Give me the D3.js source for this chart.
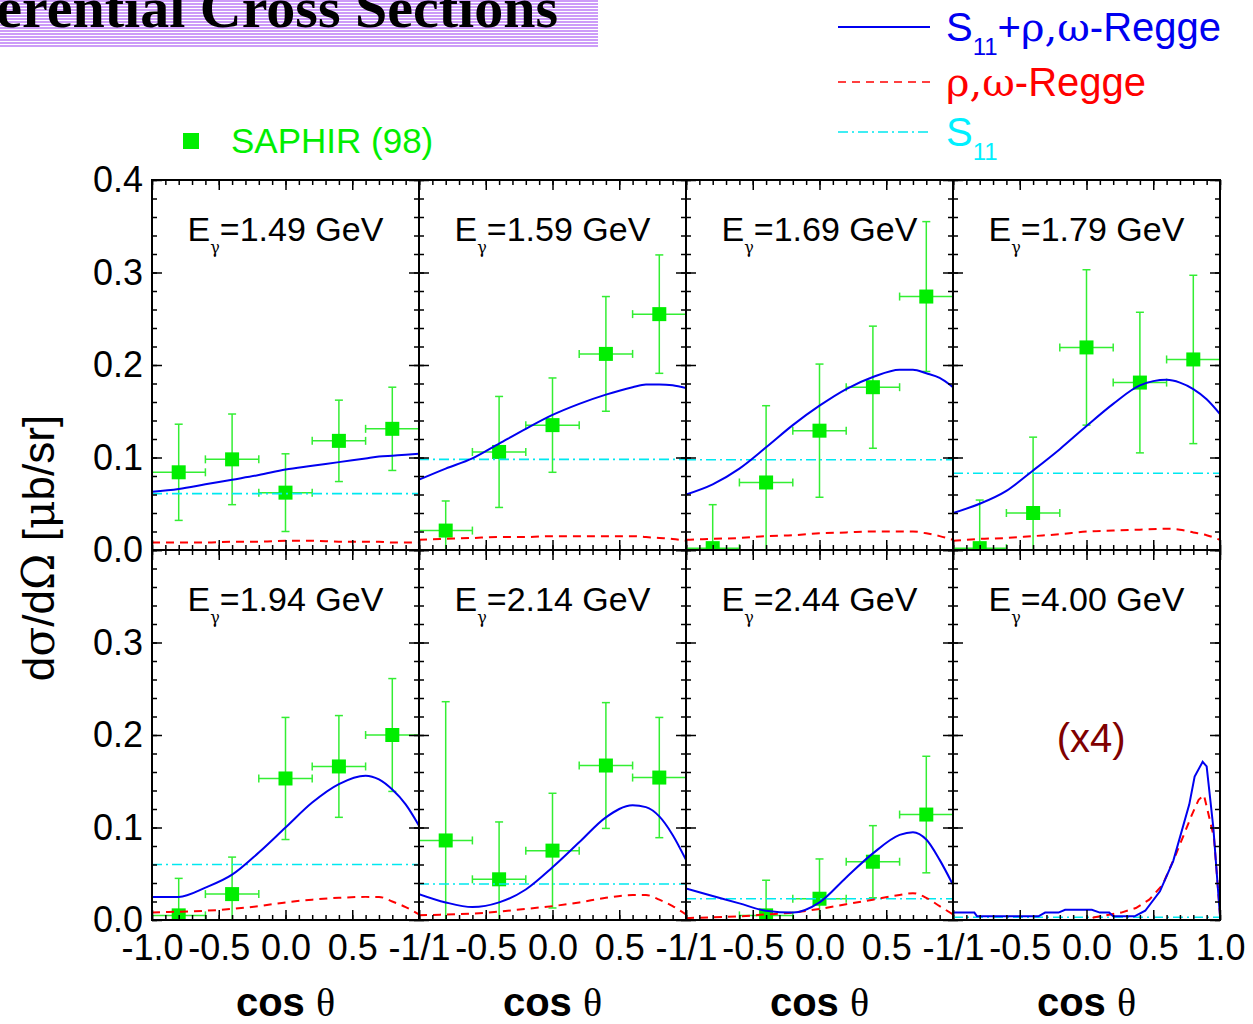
<!DOCTYPE html>
<html>
<head>
<meta charset="utf-8">
<script src="https://cdn.jsdelivr.net/npm/d3@7"></script>
<style>
  body { margin: 0; background: #fff; }
</style>
</head>
<body>
<div id="chart"></div>
<script>
// ---- data ----
var energies = ["1.49", "1.59", "1.69", "1.79", "1.94", "2.14", "2.44", "4.00"];

// SAPHIR (98) points, cos theta bins of width 0.4
var binCos = [-0.8, -0.4, 0.0, 0.4, 0.8];
var binHalf = 0.2;
var saphirY = [
  [0.084, 0.098, 0.062, 0.118, 0.131],
  [0.021, 0.106, 0.135, 0.212, 0.255],
  [0.002, 0.073, 0.129, 0.176, 0.274],
  [0.002, 0.040, 0.219, 0.181, 0.206],
  [0.005, 0.028, 0.153, 0.166, 0.200],
  [0.086, 0.044, 0.075, 0.167, 0.154],
  [null, 0.005, 0.023, 0.063, 0.114],
  []
];
var saphirErr = [
  [0.052, 0.049, 0.042, 0.044, 0.045],
  [0.032, 0.060, 0.051, 0.062, 0.064],
  [0.047, 0.083, 0.072, 0.066, 0.081],
  [0.052, 0.082, 0.084, 0.076, 0.091],
  [0.040, 0.040, 0.066, 0.055, 0.061],
  [0.150, 0.062, 0.062, 0.068, 0.065],
  [null, 0.038, 0.043, 0.039, 0.063],
  []
];

// model curves for the first seven energies
var curveCos = [-1, -0.8, -0.6, -0.4, -0.2, 0, 0.2, 0.4, 0.6, 0.7, 0.8, 0.9, 1.0];
var fullModel = [
  [0.063, 0.066, 0.071, 0.076, 0.081, 0.087, 0.091, 0.095, 0.099, 0.101, 0.102, 0.103, 0.104],
  [0.076, 0.088, 0.099, 0.115, 0.131, 0.146, 0.158, 0.168, 0.176, 0.179, 0.179, 0.178, 0.175],
  [0.060, 0.071, 0.088, 0.111, 0.135, 0.156, 0.174, 0.187, 0.195, 0.195, 0.191, 0.186, 0.176],
  [0.040, 0.050, 0.064, 0.086, 0.109, 0.134, 0.158, 0.178, 0.184, 0.181, 0.174, 0.163, 0.147],
  [0.025, 0.025, 0.035, 0.049, 0.073, 0.100, 0.127, 0.147, 0.156, 0.152, 0.141, 0.125, 0.102],
  [0.028, 0.019, 0.014, 0.019, 0.033, 0.057, 0.084, 0.111, 0.124, 0.122, 0.112, 0.092, 0.065],
  [0.034, 0.026, 0.018, 0.010, 0.008, 0.019, 0.046, 0.072, 0.092, 0.095, 0.087, 0.065, 0.038]
];
var reggeModel = [
  [0.008, 0.008, 0.008, 0.009, 0.009, 0.010, 0.010, 0.009, 0.009, 0.009, 0.008, 0.008, 0.008],
  [0.011, 0.012, 0.013, 0.014, 0.014, 0.015, 0.015, 0.015, 0.015, 0.014, 0.013, 0.012, 0.010],
  [0.011, 0.012, 0.013, 0.015, 0.016, 0.018, 0.019, 0.020, 0.020, 0.020, 0.018, 0.015, 0.011],
  [0.010, 0.012, 0.013, 0.015, 0.017, 0.020, 0.021, 0.022, 0.023, 0.022, 0.019, 0.016, 0.011],
  [0.008, 0.009, 0.010, 0.012, 0.015, 0.019, 0.022, 0.024, 0.025, 0.025, 0.020, 0.014, 0.006],
  [0.005, 0.006, 0.007, 0.009, 0.012, 0.015, 0.019, 0.024, 0.027, 0.027, 0.022, 0.015, 0.006],
  [0.002, 0.003, 0.004, 0.006, 0.008, 0.012, 0.017, 0.022, 0.027, 0.029, 0.024, 0.015, 0.006]
];
var s11Model = [0.061, 0.098, 0.0975, 0.083, 0.060, 0.039, 0.023, 0.003];

// 4.00 GeV panel (shown x4) is sampled on its own grid
var fullCos4 = [-1, -0.84, -0.82, -0.36, -0.31, -0.21, -0.16, 0.04, 0.1, 0.17, 0.2, 0.36, 0.44, 0.55, 0.65, 0.77, 0.81, 0.87, 0.9, 0.95, 1.0];
var full4 = [0.008, 0.008, 0.004, 0.004, 0.008, 0.008, 0.011, 0.011, 0.008, 0.008, 0.004, 0.004, 0.010, 0.031, 0.064, 0.125, 0.155, 0.171, 0.166, 0.100, 0.004];
var reggeCos4 = [-1, 0.0, 0.06, 0.26, 0.37, 0.47, 0.57, 0.67, 0.79, 0.84, 0.88, 0.955, 1.0];
var regge4 = [0.0, 0.0, 0.003, 0.008, 0.013, 0.022, 0.038, 0.071, 0.114, 0.130, 0.135, 0.089, 0.006];

var xMajor = [-1, -0.5, 0, 0.5, 1];
var xMinor = d3.range(0, 21).map(function (i) { return -1 + i * 0.1; });
var yMajor = [0, 0.1, 0.2, 0.3, 0.4];
var yMinor = d3.range(0, 21).map(function (i) { return i * 0.02; });

// ---- layout ----
var W = 1253, H = 1024;
var panelLeft = 152, panelW = 267;
var rowTop = [180, 550], rowH = 370;
var sans = '"Liberation Sans", Arial, sans-serif';
var serif = '"Liberation Serif", "Times New Roman", serif';
var greek = '"DejaVu Serif", "Liberation Serif", serif';

var blue = "#0000f0", red = "#ff0000", cyan = "#00e8f0", green = "#00ee00";

var svg = d3.select("#chart")
  .append("svg")
  .attr("width", W)
  .attr("height", H)
  .style("font-family", sans);

var defs = svg.append("defs");

// striped title banner (cut off at the left like in the slide)
var pat = defs.append("pattern")
  .attr("id", "stripes")
  .attr("patternUnits", "userSpaceOnUse")
  .attr("width", 10)
  .attr("height", 3);
pat.append("rect").attr("width", 10).attr("height", 3).attr("fill", "#ffffff");
pat.append("rect").attr("width", 10).attr("height", 2).attr("fill", "#cc9cf8");

svg.append("rect")
  .attr("x", 0).attr("y", 0)
  .attr("width", 598).attr("height", 47)
  .attr("fill", "url(#stripes)");

svg.append("text")
  .attr("x", 558).attr("y", 27)
  .attr("text-anchor", "end")
  .style("font-family", serif)
  .style("font-weight", "bold")
  .style("font-size", "58px")
  .text("Differential Cross Sections");

// add text pieces; [string, isGreek, dy, size]
function richText(t, parts) {
  parts.forEach(function (p) {
    var s = t.append("tspan").text(p[0]);
    if (p[1]) s.style("font-family", greek);
    if (p[2]) s.attr("dy", p[2]);
    if (p[3]) s.style("font-size", p[3] + "px");
  });
  return t;
}

var line = d3.line()
  .x(function (d) { return d[0]; })
  .y(function (d) { return d[1]; });

function cleanTicks(s) {
  s.select(".domain").remove();
  s.selectAll("line").attr("stroke", "#000").attr("stroke-width", 1.5);
}

energies.forEach(function (e, i) {
  var col = i % 4, row = Math.floor(i / 4);
  var x0 = panelLeft + col * panelW, y0 = rowTop[row];
  var x = d3.scaleLinear().domain([-1, 1]).range([x0, x0 + panelW]);
  var y = d3.scaleLinear().domain([0, 0.4]).range([y0 + rowH, y0]);

  defs.append("clipPath").attr("id", "clip" + i)
    .append("rect")
    .attr("x", x0).attr("y", y0)
    .attr("width", panelW).attr("height", rowH);

  var g = svg.append("g");
  var plot = g.append("g").attr("clip-path", "url(#clip" + i + ")");

  // SAPHIR points with error bars
  var pts = binCos.map(function (c, k) {
    return { c: c, v: saphirY[i][k], err: saphirErr[i][k] };
  }).filter(function (d) { return d.v != null; });

  var eb = plot.selectAll(".eb")
    .data(pts)
    .enter()
    .append("g")
    .attr("stroke", "#33ee33")
    .attr("stroke-width", 1.5);
  eb.append("line")
    .attr("x1", function (d) { return x(d.c - binHalf); })
    .attr("x2", function (d) { return x(d.c + binHalf); })
    .attr("y1", function (d) { return y(d.v); })
    .attr("y2", function (d) { return y(d.v); });
  eb.append("line")
    .attr("x1", function (d) { return x(d.c); })
    .attr("x2", function (d) { return x(d.c); })
    .attr("y1", function (d) { return y(d.v - d.err); })
    .attr("y2", function (d) { return y(d.v + d.err); });
  [-1, 1].forEach(function (s) {
    eb.append("line")
      .attr("x1", function (d) { return x(d.c) - 4; })
      .attr("x2", function (d) { return x(d.c) + 4; })
      .attr("y1", function (d) { return y(d.v + s * d.err); })
      .attr("y2", function (d) { return y(d.v + s * d.err); });
    eb.append("line")
      .attr("x1", function (d) { return x(d.c + s * binHalf); })
      .attr("x2", function (d) { return x(d.c + s * binHalf); })
      .attr("y1", function (d) { return y(d.v) - 4; })
      .attr("y2", function (d) { return y(d.v) + 4; });
  });
  plot.selectAll(".pt")
    .data(pts)
    .enter()
    .append("rect")
    .attr("x", function (d) { return x(d.c) - 7; })
    .attr("y", function (d) { return y(d.v) - 7; })
    .attr("width", 14)
    .attr("height", 14)
    .attr("fill", green);

  // model curves
  var fullPts, reggePts, curve;
  if (i < 7) {
    fullPts = curveCos.map(function (c, k) { return [x(c), y(fullModel[i][k])]; });
    reggePts = curveCos.map(function (c, k) { return [x(c), y(reggeModel[i][k])]; });
    curve = d3.curveMonotoneX;
  } else {
    fullPts = fullCos4.map(function (c, k) { return [x(c), y(full4[k])]; });
    reggePts = reggeCos4.map(function (c, k) { return [x(c), y(regge4[k])]; });
    curve = d3.curveLinear;
  }
  line.curve(curve);

  plot.append("path")
    .attr("d", line([[x(-1), y(s11Model[i])], [x(1), y(s11Model[i])]]))
    .attr("fill", "none")
    .attr("stroke", cyan)
    .attr("stroke-width", 1.6)
    .attr("stroke-dasharray", "10,4,2,4");
  plot.append("path")
    .attr("d", line(reggePts))
    .attr("fill", "none")
    .attr("stroke", red)
    .attr("stroke-width", 2)
    .attr("stroke-dasharray", "8,6");
  plot.append("path")
    .attr("d", line(fullPts))
    .attr("fill", "none")
    .attr("stroke", blue)
    .attr("stroke-width", 2);

  // inward ticks on all four sides, minor then major
  var axes = [
    [function () { return d3.axisBottom(x); }, "translate(0," + (y0 + rowH) + ")", xMajor, xMinor],
    [function () { return d3.axisTop(x); }, "translate(0," + y0 + ")", xMajor, xMinor],
    [function () { return d3.axisLeft(y); }, "translate(" + x0 + ",0)", yMajor, yMinor],
    [function () { return d3.axisRight(y); }, "translate(" + (x0 + panelW) + ",0)", yMajor, yMinor]
  ];
  axes.forEach(function (a) {
    g.append("g").attr("transform", a[1])
      .call(a[0]().tickValues(a[3]).tickSize(-5).tickFormat(""))
      .call(cleanTicks);
    g.append("g").attr("transform", a[1])
      .call(a[0]().tickValues(a[2]).tickSize(-10).tickFormat(""))
      .call(cleanTicks);
  });

  g.append("rect")
    .attr("x", x0).attr("y", y0)
    .attr("width", panelW).attr("height", rowH)
    .attr("fill", "none")
    .attr("stroke", "#000")
    .attr("stroke-width", 2);

  // energy label
  var lab = g.append("text")
    .attr("x", x(0))
    .attr("y", y0 + 61)
    .attr("text-anchor", "middle")
    .style("font-size", "34px");
  richText(lab, [["E"], ["γ", true, 12, 16], ["=" + e + " GeV", false, -12]]);

  if (i === 7) {
    g.append("text")
      .attr("x", x(0.035)).attr("y", y0 + 202)
      .attr("text-anchor", "middle")
      .attr("fill", "#800000")
      .style("font-size", "40px")
      .text("(x4)");
  }

  // y tick labels on the first column
  if (col === 0) {
    var yl = row === 0 ? yMajor : yMajor.slice(0, 4);
    g.append("g")
      .attr("transform", "translate(" + x0 + ",0)")
      .call(d3.axisLeft(y).tickValues(yl).tickSize(0).tickPadding(9).tickFormat(d3.format(".1f")))
      .call(function (s) { s.select(".domain").remove(); })
      .attr("font-family", sans)
      .attr("font-size", 36);
  }

  // x tick labels below the lower row; panel edges share "-1/1"
  if (row === 1) {
    var xl = col === 0 ? xMajor : xMajor.slice(1);
    g.append("g")
      .attr("transform", "translate(0," + (y0 + rowH) + ")")
      .call(d3.axisBottom(x).tickValues(xl).tickSize(0).tickPadding(14)
        .tickFormat(function (d) {
          if (d === 1) return col === 3 ? "1.0" : "-1/1";
          return d3.format(".1f")(d).replace("−", "-");
        }))
      .call(function (s) { s.select(".domain").remove(); })
      .attr("font-family", sans)
      .attr("font-size", 36);

    var ct = g.append("text")
      .attr("x", x(0))
      .attr("y", 1016)
      .attr("text-anchor", "middle")
      .style("font-size", "40px");
    ct.append("tspan").style("font-weight", "bold").text("cos ");
    ct.append("tspan").style("font-family", serif).text("θ");
  }
});

// y axis title
var yt = svg.append("text")
  .attr("transform", "translate(54,548) rotate(-90)")
  .attr("text-anchor", "middle")
  .style("font-size", "44px");
richText(yt, [["d"], ["σ", true], ["/d"], ["Ω", true], [" ["], ["μ", true], ["b/sr]"]]);

// SAPHIR key
svg.append("rect")
  .attr("x", 183).attr("y", 133)
  .attr("width", 16).attr("height", 16)
  .attr("fill", green);
svg.append("text")
  .attr("x", 231).attr("y", 153)
  .attr("fill", green)
  .style("font-size", "35px")
  .text("SAPHIR (98)");

// model legend
var legend = [
  { y: 27, color: blue, dash: null, parts: [["S"], ["11", false, 14, 24], ["+", false, -14], ["ρ,ω", true], ["-Regge"]] },
  { y: 82, color: red, dash: "8,6", parts: [["ρ,ω", true], ["-Regge"]] },
  { y: 132, color: cyan, dash: "10,4,2,4", parts: [["S"], ["11", false, 14, 24]] }
];
legend.forEach(function (d) {
  svg.append("line")
    .attr("x1", 838).attr("x2", 930)
    .attr("y1", d.y).attr("y2", d.y)
    .attr("stroke", d.color)
    .attr("stroke-width", d.dash ? 1.6 : 2)
    .attr("stroke-dasharray", d.dash);
  var t = svg.append("text")
    .attr("x", 946).attr("y", d.y + 14)
    .attr("fill", d.color === cyan ? "#00f0ff" : d.color)
    .style("font-size", "40px");
  richText(t, d.parts);
});
</script>
</body>
</html>
